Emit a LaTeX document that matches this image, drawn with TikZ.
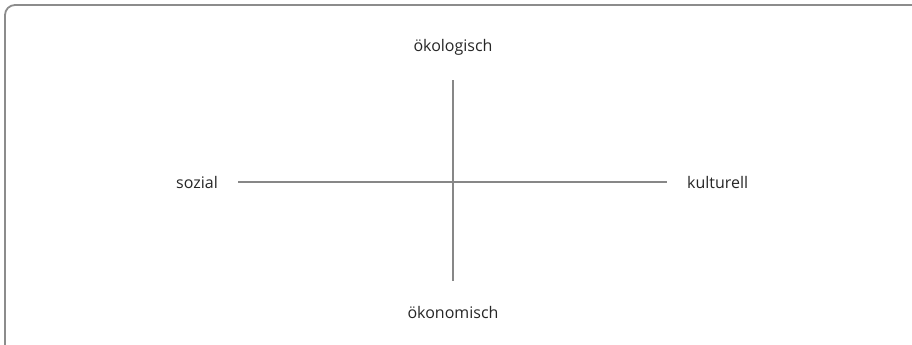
\documentclass[tikz,border=0pt]{standalone}
\usepackage{fontspec}
\setmainfont{Open Sans}
\begin{document}
\begin{tikzpicture}[x=1pt,y=-1pt,
  axis/.style={draw=black!47,line width=1.8pt},
  frame/.style={draw=black!45,line width=1.8pt,rounded corners=10pt},
  lab/.style={font=\fontsize{16}{18}\selectfont,text=black!85,inner sep=0pt}]
\useasboundingbox (0,0) rectangle (912,345);
\begin{scope}
\clip (0,0) rectangle (912,345);
\draw[frame] (5,5) rectangle (940,370);
\end{scope}
\coordinate (l) at (238,182);
\coordinate (r) at (667,182);
\coordinate (t) at (453,80);
\coordinate (b) at (453,281);
\draw[axis] (l) -- (r);
\draw[axis] (t) -- (b);
\node[lab,anchor=base east] (soz) at (218,188) {sozial};
\node[lab,anchor=base west] (kul) at (687,188) {kulturell};
\node[lab,anchor=base] (oek) at (453,52) {ökologisch};
\node[lab,anchor=base] (oen) at (453,318) {ökonomisch};
\end{tikzpicture}
\end{document}
